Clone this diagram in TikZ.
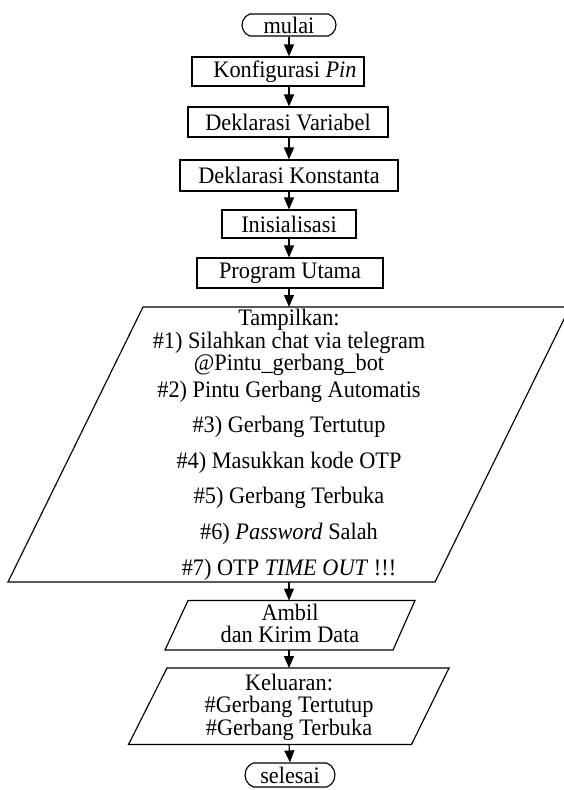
\documentclass[tikz,border=0pt]{standalone}
\usepackage{fontspec}
\setmainfont{Liberation Serif}
\usetikzlibrary{arrows.meta,shapes.misc}
\newcommand\vstretch[1]{\scalebox{1}[1.06]{#1}}
\begin{document}
\begin{tikzpicture}[x=1pt,y=-1pt,
  every node/.style={font=\fontsize{22.3}{22.3}\selectfont, inner sep=0pt},
  proc/.style={draw, line width=1.15pt},
  term/.style={draw, rounded rectangle, rounded rectangle arc length=140, line width=1.15pt},
  io/.style={draw, line width=1.15pt, line join=miter},
  arr/.style={-{Triangle[width=10pt,length=12pt]}, line width=1.15pt},
  txt/.style={anchor=base}]
\useasboundingbox (0,0) rectangle (564,790);
\clip (0,0) rectangle (564,790);

% terminals and processes
\node[term, minimum width=94, minimum height=22] (mulai) at (289,25) {\vstretch{mulai}};
\node[proc, minimum width=172, minimum height=29] (kp) at (278,71.5) {\hspace*{14pt}\vstretch{Konfigurasi \textit{Pin}}};
\node[proc, minimum width=200, minimum height=30] (dv) at (288,122) {\vstretch{Deklarasi Variabel}};
\node[proc, minimum width=218, minimum height=31] (dk) at (289,175.5) {\vstretch{Deklarasi Konstanta}};
\node[proc, minimum width=134, minimum height=28] (ini) at (289,224) {\vstretch{Inisialisasi}};
\node[proc, minimum width=186, minimum height=30] (pu) at (290,273) {\vstretch{Program Utama}};

% big output parallelogram
\coordinate (bTL) at (143,307);
\coordinate (bTR) at (570,307);
\coordinate (bBR) at (435,582);
\coordinate (bBL) at (8,582);
\coordinate (bTop) at (289,307);
\coordinate (bBot) at (289,582);
\draw[io] (bTL) -- (bTR) -- (bBR) -- (bBL) -- cycle;
\node[txt] (t0) at (289,325.7) {\vstretch{Tampilkan:}};
\node[txt] (t1) at (289,348) {\vstretch{\#1) Silahkan chat via telegram}};
\node[txt] (t1b) at (289,370) {\vstretch{@Pintu\_gerbang\_bot}};
\node[txt] (t2) at (289,397) {\vstretch{\#2) Pintu Gerbang Automatis}};
\node[txt] (t3) at (289,432.6) {\vstretch{\#3) Gerbang Tertutup}};
\node[txt] (t4) at (289,468.2) {\vstretch{\#4) Masukkan kode OTP}};
\node[txt] (t5) at (289,503.8) {\vstretch{\#5) Gerbang Terbuka}};
\node[txt] (t6) at (289,539.4) {\vstretch{\#6) \textit{Password} Salah}};
\node[txt] (t7) at (289,575) {\vstretch{\#7) OTP \textit{TIME OUT} !!!}};

% Ambil parallelogram
\coordinate (aTL) at (188,600.5);
\coordinate (aTR) at (415,600.5);
\coordinate (aBR) at (393,650);
\coordinate (aBL) at (165,650);
\coordinate (aTop) at (289,600.5);
\coordinate (aBot) at (289,650);
\draw[io] (aTL) -- (aTR) -- (aBR) -- (aBL) -- cycle;
\node[txt] (a1) at (290,620) {\vstretch{Ambil}};
\node[txt] (a2) at (290,642.7) {\vstretch{dan Kirim Data}};

% Keluaran parallelogram
\coordinate (kTL) at (167,668);
\coordinate (kTR) at (449,668);
\coordinate (kBR) at (411.5,744.5);
\coordinate (kBL) at (128.5,744.5);
\coordinate (kTop) at (289,668);
\coordinate (kBot) at (289,744.5);
\draw[io] (kTL) -- (kTR) -- (kBR) -- (kBL) -- cycle;
\node[txt] (k1) at (289,690) {\vstretch{Keluaran:}};
\node[txt] (k2) at (289,712) {\vstretch{\#Gerbang Tertutup}};
\node[txt] (k3) at (289,735) {\vstretch{\#Gerbang Terbuka}};

\node[term, minimum width=90, minimum height=24] (selesai) at (290,775) {\vstretch{selesai}};

% connectors
\draw[arr] (mulai.south) -- (mulai.south |- kp.north);
\draw[arr] (mulai.south |- kp.south) -- (mulai.south |- dv.north);
\draw[arr] (mulai.south |- dv.south) -- (mulai.south |- dk.north);
\draw[arr] (mulai.south |- dk.south) -- (mulai.south |- ini.north);
\draw[arr] (mulai.south |- ini.south) -- (mulai.south |- pu.north);
\draw[arr] (mulai.south |- pu.south) -- (bTop);
\draw[arr] (bBot) -- (aTop);
\draw[arr] (aBot) -- (kTop);
\draw[arr] (kBot) -- (selesai.north);
\end{tikzpicture}
\end{document}
